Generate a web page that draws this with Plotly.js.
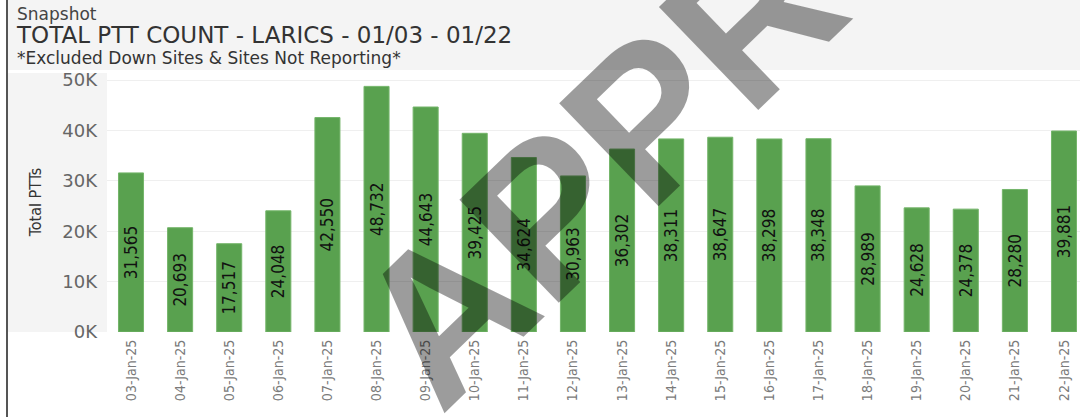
<!DOCTYPE html>
<html>
<head>
<meta charset="utf-8">
<script src="https://cdn.plot.ly/plotly-3.0.1.min.js"></script>
<style>html,body{margin:0;padding:0;background:#fff;}#chart{width:1080px;height:417px;}</style>
</head>
<body>
<div id="chart"></div>
<script>
const dates = ["03-Jan-25","04-Jan-25","05-Jan-25","06-Jan-25","07-Jan-25","08-Jan-25","09-Jan-25","10-Jan-25","11-Jan-25","12-Jan-25","13-Jan-25","14-Jan-25","15-Jan-25","16-Jan-25","17-Jan-25","18-Jan-25","19-Jan-25","20-Jan-25","21-Jan-25","22-Jan-25"];
const totalPTTs = [31565,20693,17517,24048,42550,48732,44643,39425,34624,30963,36302,38311,38647,38298,38348,28989,24628,24378,28280,39881];
const yTickVals = [0,10000,20000,30000,40000,50000];
const yTickText = ["0K","10K","20K","30K","40K","50K"];

const narrow = "'Liberation Sans Narrow', 'DejaVu Sans Condensed', 'Arial Narrow', sans-serif";
const wide = "'DejaVu Sans', 'Open Sans', sans-serif";

const trace = {
  type: 'bar',
  x: dates,
  y: totalPTTs,
  marker: {color: '#59a14f', line: {color: '#74b56a', width: 1}},
  texttemplate: '%{y:,}',
  textposition: 'inside',
  insidetextanchor: 'middle',
  textangle: -90,
  constraintext: 'none',
  textfont: {family: narrow, size: 17, color: '#111111'},
  hoverinfo: 'skip'
};

// pixel -> paper helpers (plot area: x 107..1080, y 72..332)
const L = 107, R = 0, T = 72, B = 85, W = 1080, H = 417;
const pw = W - L - R, ph = H - T - B;
const px = v => (v - L) / pw;
const py = v => (H - B - v) / ph;

const layout = {
  width: W, height: H,
  margin: {l: L, r: R, t: T, b: B, pad: 0},
  paper_bgcolor: '#ffffff',
  plot_bgcolor: '#ffffff',
  showlegend: false,
  bargap: 0.49,
  xaxis: {
    type: 'category',
    range: [-0.489, 19.326],
    tickangle: -90,
    tickfont: {family: narrow, size: 14, color: '#7a7a7a'},
    ticks: '',
    ticklabelstandoff: 4,
    showgrid: false,
    showline: false,
    zeroline: false,
    fixedrange: true
  },
  yaxis: {
    range: [0, 51587],
    tickvals: yTickVals,
    ticktext: yTickText,
    tickfont: {family: wide, size: 18, color: '#666666'},
    ticks: '',
    ticklabelstandoff: 9,
    showgrid: true,
    gridcolor: '#efefef',
    gridwidth: 1,
    zeroline: false,
    showline: false,
    fixedrange: true,
    title: {text: 'Total PTTs', font: {family: narrow, size: 16, color: '#333333'}, standoff: 16}
  },
  shapes: [
    {type: 'rect', xref: 'paper', yref: 'paper', x0: px(8), x1: px(1080), y0: py(70), y1: py(0), fillcolor: '#f4f4f4', line: {width: 0}, layer: 'below'},
    {type: 'rect', xref: 'paper', yref: 'paper', x0: px(8), x1: px(107), y0: py(332), y1: py(73), fillcolor: '#f4f4f4', line: {width: 0}, layer: 'below'},
    {type: 'line', xref: 'paper', yref: 'paper', x0: px(7), x1: px(7), y0: py(417), y1: py(0), line: {color: '#555555', width: 2}}
  ],
  annotations: [
    {xref: 'paper', yref: 'paper', x: px(15), y: py(14), xanchor: 'left', yanchor: 'middle', showarrow: false,
     text: 'Snapshot', font: {family: wide, size: 17, color: '#444444'}},
    {xref: 'paper', yref: 'paper', x: px(14), y: py(35), xanchor: 'left', yanchor: 'middle', showarrow: false,
     text: 'TOTAL PTT COUNT - LARICS - 01/03 - 01/22', font: {family: wide, size: 23, color: '#333333'}},
    {xref: 'paper', yref: 'paper', x: px(15), y: py(58), xanchor: 'left', yanchor: 'middle', showarrow: false,
     text: '*Excluded Down Sites &amp; Sites Not Reporting*', font: {family: wide, size: 17, color: '#333333'}},
    {xref: 'paper', yref: 'paper', x: px(810), y: py(-40), xanchor: 'center', yanchor: 'middle', showarrow: false,
     text: 'APPROVED', textangle: -44,
     font: {family: "'Liberation Sans', Arial, sans-serif", size: 208, weight: 'bold', color: 'rgba(0,0,0,0.39)'}}
  ]
};

Plotly.newPlot('chart', [trace], layout, {staticPlot: true, displayModeBar: false});
</script>
</body>
</html>
